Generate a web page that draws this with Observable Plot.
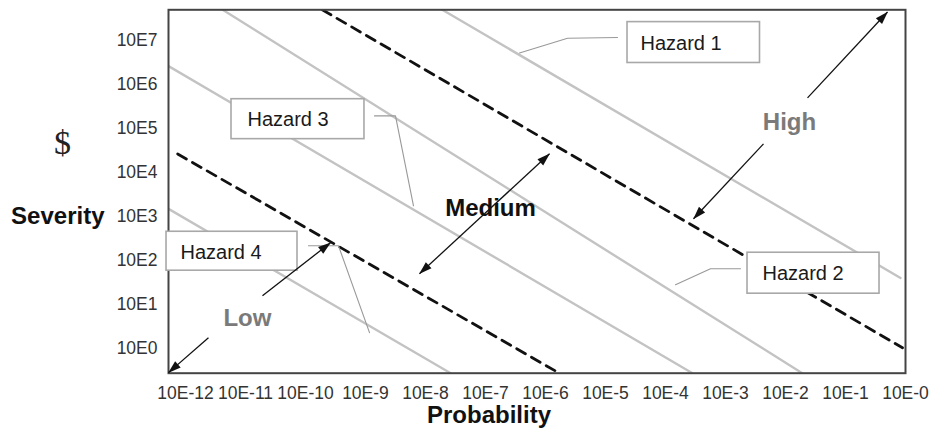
<!DOCTYPE html>
<html><head><meta charset="utf-8">
<script src="https://cdn.jsdelivr.net/npm/d3@7"></script>
<script src="https://cdn.jsdelivr.net/npm/@observablehq/plot@0.6"></script>
<style>body{margin:0;background:#fff;}</style>
</head><body><div id="chart"></div>
<script>
// Axis ticks (exponents) and their labels
const xTicks = [-12,-11,-10,-9,-8,-7,-6,-5,-4,-3,-2,-1,0];
const xTickLabels = ["10E-12","10E-11","10E-10","10E-9","10E-8","10E-7","10E-6","10E-5","10E-4","10E-3","10E-2","10E-1","10E-0"];
const yTicks = [0,1,2,3,4,5,6,7];
const yTickLabels = ["10E0","10E1","10E2","10E3","10E4","10E5","10E6","10E7"];

// Hazard iso-risk lines (log10 probability, log10 severity)
const solidStartProb = [-7.72, -11.38, -12.283, -12.283];
const solidStartSev  = [7.70, 7.70, 6.42, 3.17];
const solidEndProb   = [-0.083, -1.72, -3.55, -7.58];
const solidEndSev    = [1.60, -0.568, -0.568, -0.568];

// Risk-zone boundaries (dashed)
const boundStartProb = [-9.72, -12.13];
const boundStartSev  = [7.70, 4.42];
const boundEndProb   = [-0.05, -5.77];
const boundEndSev    = [0.01, -0.568];

// Hazard labels
const hazardNames = ["Hazard 1","Hazard 2","Hazard 3","Hazard 4"];
const boxProb1 = [-4.633, -2.633, -11.233, -12.316];
const boxProb2 = [-2.425, -0.433, -9.017, -10.133];
const boxSev1  = [6.49, 1.241, 4.757, 1.764];
const boxSev2  = [7.42, 2.173, 5.666, 2.65];
const labelProb = [-4.417, -2.383, -10.967, -12.083];
const labelSev  = [6.93, 1.70, 5.195, 2.173];
const leaderProb = [[-4.8,-5.633,-6.433],[-2.75,-3.25,-3.833],[-8.85,-8.5,-8.2],[-9.95,-9.45,-8.933]];
const leaderSev  = [[7.07,7.052,6.718],[1.809,1.809,1.445],[5.286,5.286,3.241],[2.332,2.332,0.355]];

// Risk zones
const zoneNames = ["Low","Medium","High"];
const zoneProb = [-10.967, -6.917, -1.933];
const zoneSev  = [0.673, 3.173, 5.15];
const arrowFromProb = [-11.617, -10.717, -7.017, -7.017, -1.633, -2.367];
const arrowFromSev  = [0.241, 1.195, 3.059, 3.059, 5.695, 4.65];
const arrowToProb   = [-12.283, -9.583, -8.1, -5.933, -0.3, -3.533];
const arrowToSev    = [-0.555, 2.4, 1.695, 4.423, 7.65, 2.945];

const solidTable = solidStartProb.flatMap((p,i)=>[{id:i,prob:p,sev:solidStartSev[i]},{id:i,prob:solidEndProb[i],sev:solidEndSev[i]}]);
const boundTable = boundStartProb.flatMap((p,i)=>[{id:i,prob:p,sev:boundStartSev[i]},{id:i,prob:boundEndProb[i],sev:boundEndSev[i]}]);
const hazardTable = hazardNames.map((n,i)=>({name:n,x1:boxProb1[i],x2:boxProb2[i],y1:boxSev1[i],y2:boxSev2[i],lx:labelProb[i],ly:labelSev[i]}));
const leaderTable = leaderProb.flatMap((ps,i)=>ps.map((p,j)=>({id:i,prob:p,sev:leaderSev[i][j]})));
const zoneTable = zoneNames.map((n,i)=>({name:n,prob:zoneProb[i],sev:zoneSev[i]}));
const arrowTable = arrowFromProb.map((p,i)=>({x1:p,y1:arrowFromSev[i],x2:arrowToProb[i],y2:arrowToSev[i]}));

const font = "Liberation Sans, Arial, Helvetica, sans-serif";

const chart = Plot.plot({
  width: 932, height: 431,
  marginLeft: 168, marginRight: 27, marginTop: 9.3, marginBottom: 58.3,
  style: {fontFamily: font, fontSize: "17px", color: "#333", background: "white"},
  x: {domain: [-12.283, 0]},
  y: {domain: [-0.568, 7.70]},
  marks: [
    Plot.axisX({ticks: xTicks, tickFormat: d => xTickLabels[xTicks.indexOf(d)], tickSize: 0, tickPadding: 13, fontSize: 17.5, label: null, color: "#333"}),
    Plot.axisY({ticks: yTicks, tickFormat: d => yTickLabels[yTicks.indexOf(d)], tickSize: 0, tickPadding: 11, fontSize: 17.5, label: null, color: "#333"}),
    Plot.line(solidTable, {x:"prob", y:"sev", z:"id", stroke:"#c3c3c3", strokeWidth:2.4, clip:true}),
    Plot.line(boundTable, {x:"prob", y:"sev", z:"id", stroke:"#111", strokeWidth:2.8, strokeDasharray:"10,7", clip:true}),
    Plot.line(leaderTable, {x:"prob", y:"sev", z:"id", stroke:"#999", strokeWidth:1.1}),
    Plot.frame({stroke:"#444", strokeWidth:2}),
    Plot.rect(hazardTable, {x1:"x1", x2:"x2", y1:"y1", y2:"y2", fill:"white", stroke:"#a8a8a8", strokeWidth:1.6}),
    Plot.text(hazardTable, {x:"lx", y:"ly", text:"name", textAnchor:"start", fontSize:20, fill:"#1a1a1a"}),
    Plot.link(arrowTable, {x1:"x1", y1:"y1", x2:"x2", y2:"y2", stroke:"#111", strokeWidth:1.3, markerEnd:"arrow"}),
    Plot.text(zoneTable.filter(d => d.name !== "Medium"), {x:"prob", y:"sev", text:"name", fontSize:24, fontWeight:"bold", fill:"#7a7a7a"}),
    Plot.text(zoneTable.filter(d => d.name === "Medium"), {x:"prob", y:"sev", text:"name", fontSize:24, fontWeight:"bold", fill:"#111"}),
    Plot.text(["Severity"], {text: d => d, frameAnchor:"left", textAnchor:"end", dx:-64, dy:25, fontSize:24, fontWeight:"bold", fill:"#111"}),
    Plot.text(["$"], {text: d => d, frameAnchor:"left", textAnchor:"middle", dx:-106, dy:-48, fontSize:34, fontFamily:"Liberation Serif, DejaVu Serif, serif", fill:"#222"}),
    Plot.text(["Probability"], {text: d => d, frameAnchor:"bottom", textAnchor:"middle", dx:-48, dy:50, fontSize:24, fontWeight:"bold", fill:"#111"})
  ]
});

// filled arrowheads
chart.querySelectorAll("marker").forEach(m => {
  m.setAttribute("viewBox", "-13 -5 14 10");
  m.setAttribute("markerWidth", "14");
  m.setAttribute("markerHeight", "10");
  m.setAttribute("markerUnits", "userSpaceOnUse");
  m.setAttribute("fill", "#111");
  m.setAttribute("stroke", "none");
  m.innerHTML = "";
  const p = document.createElementNS("http://www.w3.org/2000/svg", "path");
  p.setAttribute("d", "M-12.5,-4.2L0.5,0L-12.5,4.2Z");
  m.appendChild(p);
});

document.getElementById("chart").appendChild(chart);
</script></body></html>
